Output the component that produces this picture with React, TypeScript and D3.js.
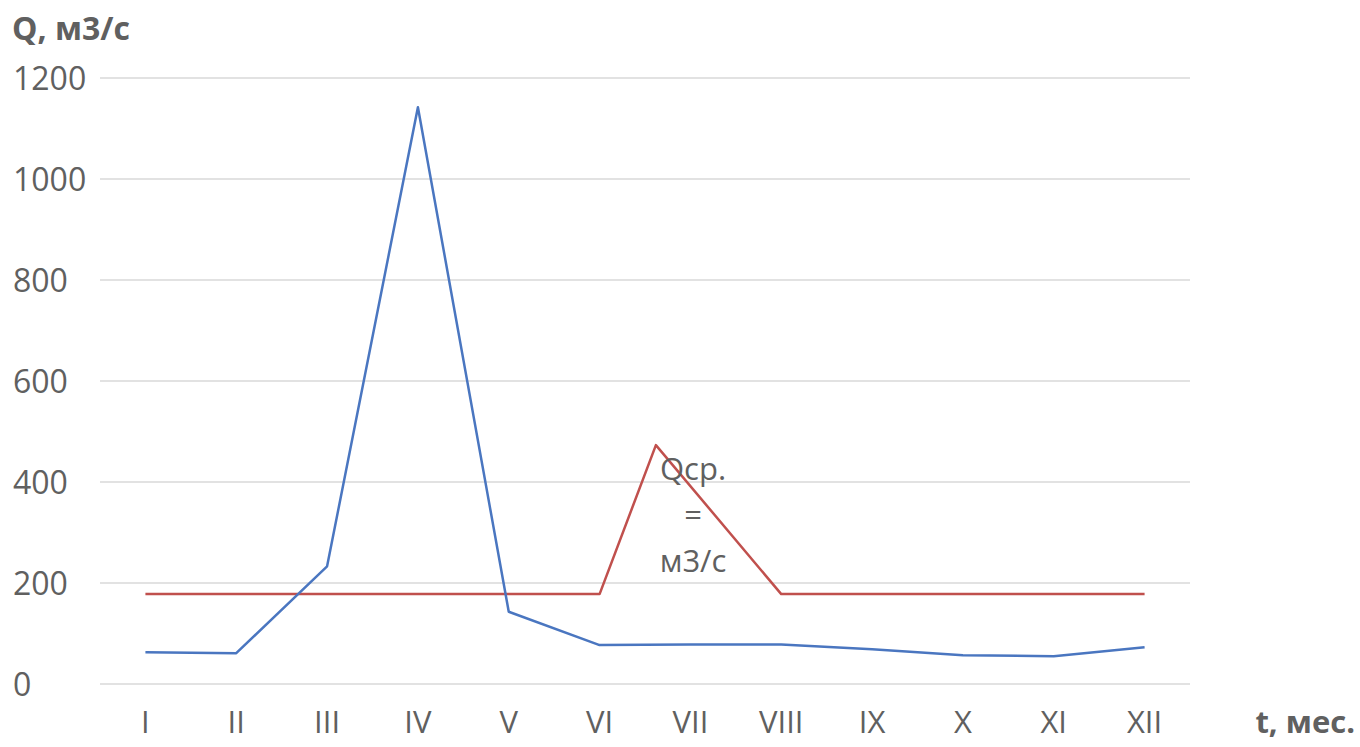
import React from "react";
import * as d3 from "d3";

const months = ["I", "II", "III", "IV", "V", "VI", "VII", "VIII", "IX", "X", "XI", "XII"];
const flowValues = [63, 61, 233, 1142, 143, 77, 78, 78, 69, 57, 55, 73];
const meanIndex = [0, 5, 5.62, 7, 11];
const meanValues = [178, 178, 473, 178, 178];
const yTicks = [0, 200, 400, 600, 800, 1000, 1200];
const annotationLines = ["Qср.", "=", "м3/с"];
const yTitle = "Q, м3/с";
const xTitle = "t, мес.";

const W = 1360;
const H = 747;
const plotLeft = 100;
const plotRight = 1190;
const plotTop = 78;
const plotBottom = 684;

export default function App() {
  const x = d3.scaleBand<string>().domain(months).range([plotLeft, plotRight]);
  const cx = (m: string) => (x(m) as number) + x.bandwidth() / 2;
  const xi = d3
    .scaleLinear()
    .domain([0, months.length - 1])
    .range([cx(months[0]), cx(months[months.length - 1])]);
  const y = d3.scaleLinear().domain([0, 1200]).range([plotBottom, plotTop]);

  const flowLine = d3
    .line<number>()
    .x((_, i) => cx(months[i]))
    .y((d) => y(d))(flowValues) as string;

  const meanLine = d3
    .line<number>()
    .x((_, i) => xi(meanIndex[i]))
    .y((d) => y(d))(meanValues) as string;

  const font = "'Open Sans', 'Liberation Sans', sans-serif";
  const textColor = "#606060";

  return (
    <svg
      width={W}
      height={H}
      style={{ position: "absolute", left: 0, top: 0, background: "#fff" }}
      fontFamily={font}
    >
      <rect x={0} y={0} width={W} height={H} fill="#fff" />
      {yTicks.map((t) => (
        <g key={t}>
          <line x1={plotLeft} x2={plotRight} y1={y(t)} y2={y(t)} stroke="#d9d9d9" strokeWidth={1.5} />
          <text x={13} y={y(t)} dy="0.36em" fontSize={32} fill={textColor}>
            {t}
          </text>
        </g>
      ))}
      {months.map((m) => (
        <text key={m} x={cx(m)} y={733} textAnchor="middle" fontSize={31} fill={textColor}>
          {m}
        </text>
      ))}
      <path d={meanLine} fill="none" stroke="#c0504d" strokeWidth={2.5} strokeLinejoin="round" />
      <path d={flowLine} fill="none" stroke="#4a76c0" strokeWidth={2.5} strokeLinejoin="round" />
      {annotationLines.map((s, i) => (
        <text key={i} x={693} y={480 + i * 46} textAnchor="middle" fontSize={31} fill={textColor}>
          {s}
        </text>
      ))}
      <text x={12} y={40} fontSize={32} fontWeight="bold" fill={textColor}>
        {yTitle}
      </text>
      <text x={1355} y={733} textAnchor="end" fontSize={31} fontWeight="bold" fill={textColor}>
        {xTitle}
      </text>
    </svg>
  );
}
